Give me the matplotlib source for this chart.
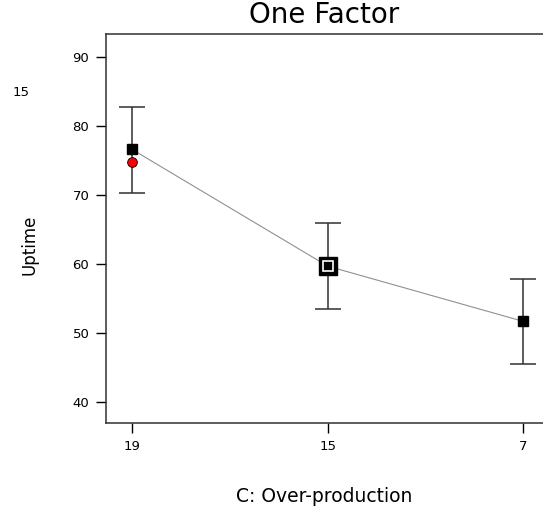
import numpy as np
import matplotlib.pyplot as plt

plt.rcParams['font.family'] = ['DejaVu Sans']

# data
levels = ["19", "15", "7"]
means = [76.6, 59.7, 51.7]
upper = [82.7, 65.9, 57.8]
lower = [70.3, 53.5, 45.5]
actual_x = [0]
actual_y = [74.8]

x = np.arange(len(levels))
means_a = np.array(means)
err = [means_a - np.array(lower), np.array(upper) - means_a]

fig = plt.figure(figsize=(5.43, 5.09), dpi=100)
ax = fig.add_axes([106 / 543, 1 - 423 / 509, 1 - 106 / 543, (423 - 34) / 509])

# connecting line and error bars
ax.plot(x, means, color='#909090', lw=0.8, zorder=1)
ax.errorbar(x, means, yerr=err, fmt='none', ecolor='#303030', elinewidth=1.1,
            capsize=9.5, capthick=1.1, zorder=2)

# mean markers, the middle one is the highlighted point
ax.plot(x[[0, 2]], means_a[[0, 2]], 's', color='black', ms=7, zorder=3)
ax.plot(x[1], means[1], 's', color='black', ms=13, zorder=3)
ax.plot(x[1], means[1], 's', mfc='none', mec='white', mew=1.2, ms=7, zorder=4)

# actual design point
ax.plot(actual_x, actual_y, 'o', mfc='red', mec='black', mew=0.6, ms=7, zorder=5)

ax.set_xlim(-0.133, 2.10)
ax.set_ylim(37.0, 93.3)
ax.set_xticks(x)
ax.set_xticklabels(levels)
ax.set_yticks([40, 50, 60, 70, 80, 90])
ax.tick_params(direction='out', length=7, width=1, labelsize=9.5, pad=5)
ax.spines['right'].set_visible(False)
for s in ['left', 'bottom', 'top']:
    ax.spines[s].set_linewidth(1.1)
    ax.spines[s].set_color('#303030')

fig.text(324 / 543, 1 - 15 / 509, "One Factor", ha='center', va='center', fontsize=20)
fig.text(21 / 543, 1 - 92 / 509, "15", ha='center', va='center', fontsize=9.5)
fig.text(30 / 543, 1 - 245 / 509, "Uptime", ha='center', va='center', fontsize=12,
         rotation=90)
fig.text(324 / 543, 1 - 496 / 509, "C: Over-production", ha='center', va='center',
         fontsize=13.5)

fig.savefig("out.png", dpi=100, facecolor='white')
